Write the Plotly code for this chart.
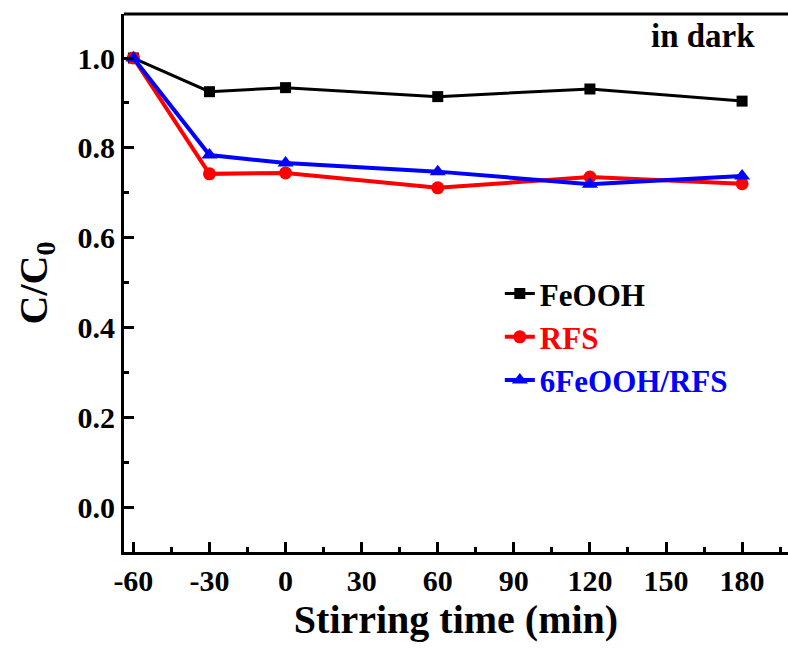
import plotly.graph_objects as go

time_min = [-60, -30, 0, 60, 120, 180]
feooh = [1.0, 0.925, 0.934, 0.914, 0.931, 0.904]
rfs = [1.0, 0.742, 0.744, 0.711, 0.735, 0.720]
fe_rfs = [1.0, 0.784, 0.766, 0.747, 0.719, 0.737]

series_names = ["FeOOH", "RFS", "6FeOOH/RFS"]
series_colors = ["#000000", "#ff0000", "#0000ff"]
series_symbols = ["square", "circle", "triangle-up"]
series_values = [feooh, rfs, fe_rfs]

x_ticks = [-60, -30, 0, 30, 60, 90, 120, 150, 180]
y_ticks = [0.0, 0.2, 0.4, 0.6, 0.8, 1.0]

FONT = "Liberation Serif"

fig = go.Figure()
for name, color, sym, vals, lw, ms in zip(series_names, series_colors, series_symbols,
                                         series_values, [3, 4, 4], [11, 13, 14]):
    fig.add_trace(go.Scatter(
        x=time_min, y=vals,
        name=f"<span style='color:{color}'><b>{name}</b></span>",
        mode="lines+markers",
        line=dict(color=color, width=lw),
        marker=dict(symbol=sym, size=ms, color=color),
    ))

fig.update_layout(
    width=788, height=649,
    margin=dict(l=124, r=0, t=14, b=97),
    paper_bgcolor="white", plot_bgcolor="white",
    font=dict(family=FONT, color="black"),
    showlegend=True,
    legend=dict(
        x=0.566, y=0.53, xanchor="left", yanchor="top",
        bgcolor="rgba(0,0,0,0)",
        font=dict(family=FONT, size=31, color="black"),
        tracegroupgap=0, itemsizing="trace",
    ),
    annotations=[dict(
        text="<b>in dark</b>", x=0.872, y=0.997, xref="paper", yref="paper",
        xanchor="center", yanchor="top", showarrow=False,
        font=dict(family=FONT, size=33, color="black"),
    )],
    shapes=[dict(type="line", xref="paper", yref="paper", x0=0, x1=1, y0=1, y1=1,
                 line=dict(color="black", width=3))],
)

fig.update_xaxes(
    range=[-63.7, 198.1],
    tickvals=x_ticks, ticktext=[f"<b>{v}</b>" for v in x_ticks],
    ticks="inside", ticklen=10, tickwidth=3, tickcolor="black",
    minor=dict(dtick=15, tick0=-60, ticks="inside", ticklen=5, tickwidth=3, tickcolor="black"),
    showline=True, linecolor="black", linewidth=3, mirror=False,
    showgrid=False, zeroline=False,
    tickfont=dict(family=FONT, size=30, color="black"),
    title=dict(text="<b>Stirring time (min)</b>", font=dict(family=FONT, size=40, color="black"), standoff=0),
)
fig.update_yaxes(
    range=[-0.1, 1.098],
    tickvals=y_ticks, ticktext=[f"<b>{v:.1f}</b>" for v in y_ticks],
    ticks="inside", ticklen=10, tickwidth=3, tickcolor="black",
    minor=dict(dtick=0.1, tick0=0, ticks="inside", ticklen=5, tickwidth=3, tickcolor="black"),
    showline=True, linecolor="black", linewidth=3, mirror=False,
    showgrid=False, zeroline=False,
    tickfont=dict(family=FONT, size=30, color="black"),
    title=dict(text="<b>C/C<sub>0</sub></b>", font=dict(family=FONT, size=40, color="black"), standoff=18),
)

fig.write_html("out.html")
